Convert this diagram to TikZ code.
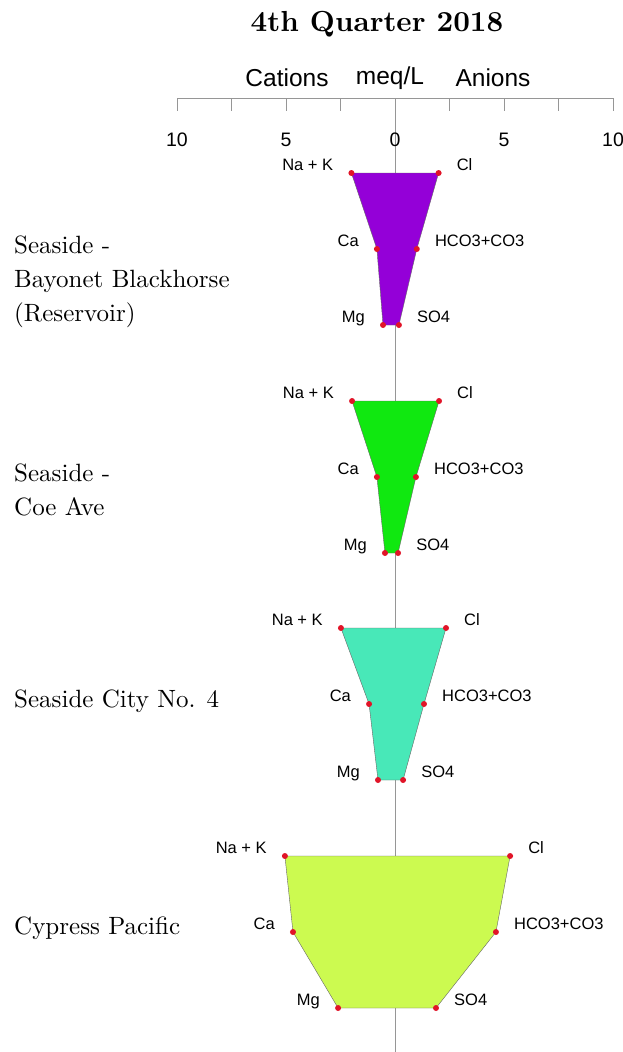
\documentclass[tikz,border=0pt]{standalone}
\usepackage{fontspec}
\setmainfont{lmroman10-regular.otf}[BoldFont=lmroman10-bold.otf]
\newfontfamily\lbsans{Liberation Sans}

\definecolor{stiffviolet}{RGB}{148,0,216}
\definecolor{stiffgreen}{RGB}{16,232,16}
\definecolor{stiffaqua}{RGB}{72,232,184}
\definecolor{stifflime}{RGB}{204,250,80}
\definecolor{ptred}{RGB}{225,20,40}
\definecolor{axisgray}{RGB}{150,150,150}

\tikzset{
  pt/.style={circle,fill=ptred,inner sep=0pt,minimum size=6pt},
  ionlbl/.style={font=\lbsans\fontsize{16.5}{17}\selectfont,inner sep=0pt},
  catlbl/.style={ionlbl,anchor=base east,xshift=-18pt,yshift=3pt},
  anlbl/.style={ionlbl,anchor=base west,xshift=18pt,yshift=3pt},
  ticklbl/.style={font=\lbsans\fontsize{19.5}{20}\selectfont,inner sep=0pt},
  hdr/.style={font=\lbsans\fontsize{24.5}{25}\selectfont,inner sep=0pt},
  site/.style={font=\fontsize{25}{34}\selectfont,anchor=west,align=left,inner sep=0pt},
}

\begin{document}
\begin{tikzpicture}[x=1pt,y=-1pt]
  \useasboundingbox[fill=white] (0,0) rectangle (623,1052);
  \pgfmathsetmacro{\ux}{21.8}
  \pgfmathsetmacro{\xo}{395}
  \pgfmathsetmacro{\ya}{98}
  % title and axis
  \node[font=\bfseries\fontsize{29}{29}\selectfont] (title) at (377,24) {4th Quarter 2018};
  \node[hdr] (cat) at (287,78) {Cations};
  \node[hdr] (unit) at (390,78) {meq/L};
  \node[hdr] (an) at (493,78) {Anions};
  \draw[axisgray] (\xo-10*\ux,\ya) -- (\xo+10*\ux,\ya);
  \foreach \t in {-4,...,4}
    \draw[axisgray] (\xo+\t*2.5*\ux,\ya) -- ++(0,13);
  \draw[axisgray] (\xo,\ya) -- (\xo,1052);
  \foreach \i/\v/\t in {1/-10/10,2/-5/5,3/0/0,4/5/5,5/10/10}
    \node[ticklbl] (tick\i) at (\xo+\v*\ux,140) {\t};
  % stiff diagrams
  \foreach \n/\yy/\col/\na/\ca/\mg/\cl/\hc/\so in {
      1/173/stiffviolet/2.0/0.83/0.55/2.0/1.0/0.18,
      2/401/stiffgreen/1.97/0.83/0.46/2.02/0.96/0.14,
      3/628/stiffaqua/2.48/1.19/0.78/2.34/1.33/0.37,
      4/856/stifflime/5.05/4.68/2.61/5.28/4.63/1.88}
  {
    \coordinate (nak\n) at (\xo-\na*\ux,\yy);
    \coordinate (ca\n) at (\xo-\ca*\ux,\yy+76);
    \coordinate (mg\n) at (\xo-\mg*\ux,\yy+152);
    \coordinate (cl\n) at (\xo+\cl*\ux,\yy);
    \coordinate (hco\n) at (\xo+\hc*\ux,\yy+76);
    \coordinate (so\n) at (\xo+\so*\ux,\yy+152);
    \filldraw[fill=\col,draw=black!60,line width=0.4pt]
      (nak\n) -- (cl\n) -- (hco\n) -- (so\n) -- (mg\n) -- (ca\n) -- cycle;
    \foreach \p in {nak,ca,mg,cl,hco,so}
      \node[pt] at (\p\n) {};
    \node[catlbl] at (nak\n) {Na + K};
    \node[catlbl] at (ca\n) {Ca};
    \node[catlbl] at (mg\n) {Mg};
    \node[anlbl] at (cl\n) {Cl};
    \node[anlbl] at (hco\n) {HCO3+CO3};
    \node[anlbl] at (so\n) {SO4};
  }
  % site names
  \node[site] (site1) at (14,282) {Seaside -\\Bayonet Blackhorse\\(Reservoir)};
  \node[site] (site2) at (14,490) {Seaside -\\Coe Ave};
  \node[site] (site3) at (14,701) {Seaside City No. 4};
  \node[site] (site4) at (14,928) {Cypress Pacific};
\end{tikzpicture}
\end{document}
